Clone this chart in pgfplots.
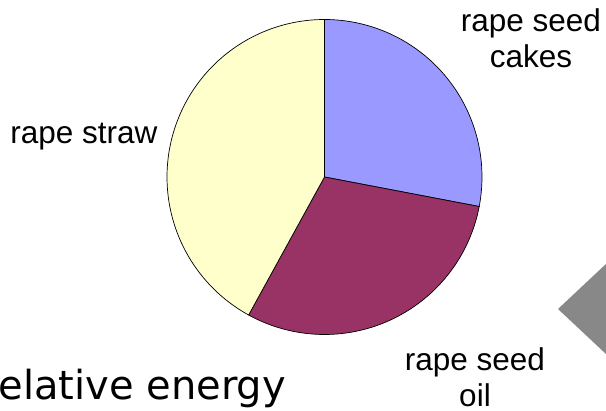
\documentclass[border=0pt]{standalone}
\usepackage{fontspec}
\setmainfont{Liberation Sans}
\newfontfamily\slidefont{DejaVu Sans}
\usepackage{pgfplots}
\usepackage{pgfplotstable}
\pgfplotsset{compat=1.18}

\definecolor{cakes}{HTML}{9999FF}
\definecolor{oil}{HTML}{993366}
\definecolor{straw}{HTML}{FFFFCC}
\definecolor{arrowgray}{HTML}{888888}

% share of each part, percent
\pgfplotstableread{
part  share
cakes 28
oil   30
straw 42
}\shares

\pgfplotstablegetelem{0}{share}\of\shares \let\sA\pgfplotsretval
\pgfplotstablegetelem{1}{share}\of\shares \let\sB\pgfplotsretval
\pgfplotstablegetelem{2}{share}\of\shares \let\sC\pgfplotsretval
% slices run clockwise from 12 o'clock
\pgfmathsetmacro{\aA}{90-3.6*\sA}
\pgfmathsetmacro{\aB}{\aA-3.6*\sB}
\pgfmathsetmacro{\aC}{\aB-3.6*\sC}

\def\cx{324.5}
\def\cy{234}
\def\rr{157.5}

\begin{document}
\begin{tikzpicture}
\begin{axis}[
    width=606pt, height=411pt, scale only axis,
    hide axis, clip=false,
    xmin=0, xmax=606, ymin=0, ymax=411,
    every node/.style={inner sep=0pt},
]
\coordinate (ll) at (0,0);
\coordinate (ur) at (606,411);

\addplot[fill=cakes, draw=black, line width=0.7pt, domain=\aA:90, samples=90, variable=\t]
    ({\cx+\rr*cos(\t)}, {\cy+\rr*sin(\t)}) -- (\cx,\cy) -- cycle;
\addplot[fill=oil, draw=black, line width=0.7pt, domain=\aB:\aA, samples=90, variable=\t]
    ({\cx+\rr*cos(\t)}, {\cy+\rr*sin(\t)}) -- (\cx,\cy) -- cycle;
\addplot[fill=straw, draw=black, line width=0.7pt, domain=\aC:\aB, samples=120, variable=\t]
    ({\cx+\rr*cos(\t)}, {\cy+\rr*sin(\t)}) -- (\cx,\cy) -- cycle;

% slide arrow at the right edge
\addplot[fill=arrowgray, draw=none] coordinates {(558,102) (607,148) (607,56)} -- cycle;

\begin{scope}[font=\fontsize{31.5}{36}\selectfont]
\node[anchor=base] at (531,379) {rape seed};
\node[anchor=base] at (531,343) {cakes};
\node[anchor=base] at (475,40) {rape seed};
\node[anchor=base] at (475,4) {oil};
\node[anchor=base east] at (161,267) {rape straw};
\end{scope}

\node[anchor=base west, font=\slidefont\fontsize{40}{48}\selectfont] at (-20.6,11) {relative energy};
\end{axis}
\pgfresetboundingbox
\path[use as bounding box] (ll) rectangle (ur);
\end{tikzpicture}
\end{document}
